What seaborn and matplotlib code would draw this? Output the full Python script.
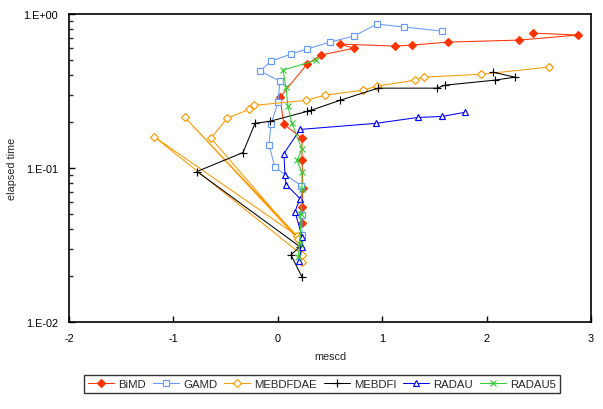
# mescd x tempo de execucao para seis solvers (escala log no eixo y)
import pandas as pd
import seaborn as sns
import matplotlib.pyplot as plt
from matplotlib.ticker import NullFormatter, LogLocator

# Dados (ordem em que os pontos sao ligados)
solvers = ["BiMD", "GAMD", "MEBDFDAE", "MEBDFI", "RADAU", "RADAU5"]

bimd_mescd = [0.232, 0.232, 0.241, 0.232, 0.232, 0.059, 0.021, 0.280, 0.414,
              0.730, 0.596, 1.123, 1.285, 1.630, 2.310, 2.875, 2.444]
bimd_time = [0.0441, 0.0561, 0.0747, 0.112, 0.156, 0.192, 0.288, 0.472, 0.541,
             0.600, 0.638, 0.619, 0.628, 0.657, 0.677, 0.730, 0.752]

gamd_mescd = [0.232, 0.232, 0.222, -0.027, -0.084, -0.065, 0.002, 0.021, -0.170,
              -0.065, 0.126, 0.280, 0.500, 0.730, 0.950, 1.209, 1.573]
gamd_time = [0.0369, 0.0498, 0.0769, 0.1008, 0.142, 0.192, 0.267, 0.366, 0.426,
             0.494, 0.549, 0.592, 0.657, 0.719, 0.861, 0.823, 0.775]

mebdfdae_mescd = [0.232, 0.232, -1.186, 0.184, -0.889, 0.193, -0.640, -0.487, -0.276,
                  -0.228, 0.270, 0.452, 0.816, 0.950, 1.314, 1.400, 1.946, 2.598]
mebdfdae_time = [0.0246, 0.0273, 0.160, 0.0363, 0.213, 0.0347, 0.156, 0.210, 0.240,
                 0.255, 0.275, 0.297, 0.320, 0.340, 0.372, 0.389, 0.406, 0.452]

mebdfi_mescd = [0.232, 0.126, 0.213, -0.774, -0.333, -0.218, -0.075, 0.280, 0.318,
                0.596, 0.960, 1.525, 1.602, 2.080, 2.272, 2.061]
mebdfi_time = [0.0196, 0.0273, 0.0308, 0.0949, 0.126, 0.195, 0.201, 0.233, 0.237,
               0.275, 0.330, 0.330, 0.345, 0.372, 0.389, 0.419]

radau_mescd = [0.203, 0.232, 0.232, 0.165, 0.213, 0.079, 0.069, 0.059, 0.213,
               0.941, 1.343, 1.573, 1.793]
radau_time = [0.0250, 0.0308, 0.0358, 0.0521, 0.0633, 0.0781, 0.0894, 0.124, 0.178,
              0.195, 0.213, 0.216, 0.230]

radau5_mescd = [0.193, 0.213, 0.222, 0.232, 0.232, 0.184, 0.232, 0.136, 0.098,
                0.079, 0.050, 0.366]
radau5_time = [0.0265, 0.0322, 0.0505, 0.0735, 0.0935, 0.112, 0.132, 0.195, 0.252,
               0.334, 0.432, 0.501]

mescd = [bimd_mescd, gamd_mescd, mebdfdae_mescd, mebdfi_mescd, radau_mescd, radau5_mescd]
tempo = [bimd_time, gamd_time, mebdfdae_time, mebdfi_time, radau_time, radau5_time]

# Estilo de cada serie
cores = ["#FF3300", "#6699FF", "#FF9900", "#000000", "#0000FF", "#33CC33"]
marcadores = ["D", "s", "D", "+", "^", "x"]
preenchido = [True, False, False, True, False, True]
tamanhos = [3.6, 4.6, 4.0, 5.5, 5.0, 4.0]

sns.set_theme(style="ticks")
plt.rcParams['font.family'] = ['Liberation Sans', 'DejaVu Sans']

fig = plt.figure(figsize=(6.03, 4.10), dpi=100)
ax = fig.add_axes([0.1144, 0.2122, 0.8656, 0.7512])

for nome, xs, ys, cor, mk, cheio, ms in zip(solvers, mescd, tempo, cores,
                                            marcadores, preenchido, tamanhos):
    df = pd.DataFrame({"mescd": xs, "elapsed time": ys})
    sns.lineplot(data=df, x="mescd", y="elapsed time", ax=ax, sort=False,
                 estimator=None, color=cor, marker=mk, markersize=ms,
                 markerfacecolor=cor if cheio else "white",
                 markeredgecolor=cor, markeredgewidth=0.85, linewidth=0.75,
                 label=nome)

ax.set_yscale("log")
ax.set_ylim(0.01, 1)
ax.set_xlim(-2, 3)
ax.set_xticks([-2, -1, 0, 1, 2, 3])
ax.set_xticklabels(["-2", "-1", "0", "1", "2", "3"])
ax.set_yticks([0.01, 0.1, 1])
ax.set_yticklabels(["1.E-02", "1.E-01", "1.E+00"])
ax.yaxis.set_minor_locator(LogLocator(base=10, subs=range(2, 10)))
ax.yaxis.set_minor_formatter(NullFormatter())
ax.tick_params(axis="both", which="major", direction="in", length=4,
               width=1, labelsize=7.8, colors="black", pad=8)
ax.tick_params(axis="y", which="minor", direction="in", length=3, width=1)
ax.tick_params(axis="x", which="minor", length=0)
for lado in ax.spines.values():
    lado.set_visible(True)
    lado.set_color("black")
    lado.set_linewidth(1.2)

ax.set_xlabel("mescd", fontsize=7.8, labelpad=6)
ax.set_ylabel("elapsed time", fontsize=7.8)
ax.yaxis.set_label_coords(-0.1, 0.5)

if ax.get_legend() is not None:
    ax.get_legend().remove()
handles, labels = ax.get_legend_handles_labels()
leg = fig.legend(handles, labels, loc="center", bbox_to_anchor=(0.534, 0.061),
                 ncol=6, fontsize=8.2, frameon=True, fancybox=False,
                 edgecolor="black", handlelength=2.3, handletextpad=0.35,
                 columnspacing=0.6, borderpad=0.35, borderaxespad=0)
leg.get_frame().set_linewidth(1.0)

plt.savefig("out.png", dpi=100)
